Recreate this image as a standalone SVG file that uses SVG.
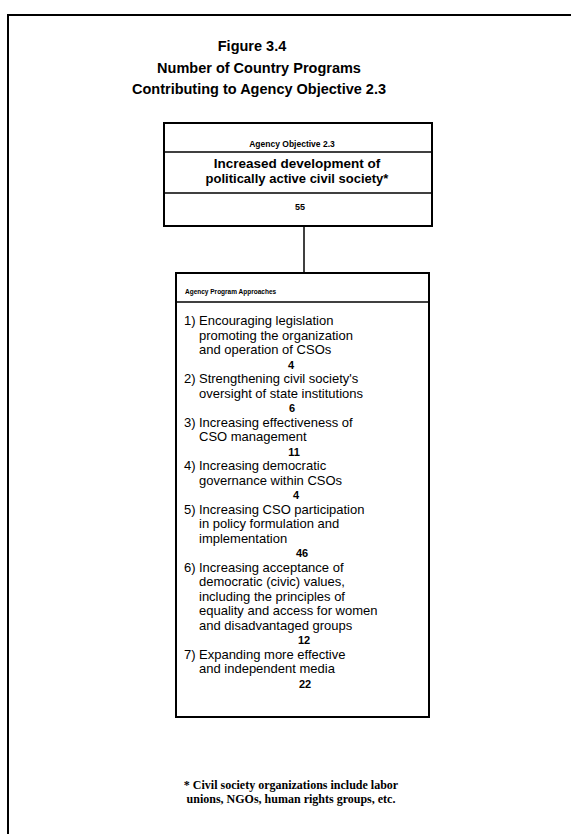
<svg xmlns="http://www.w3.org/2000/svg" width="571" height="834" viewBox="0 0 571 834">
<style>
.ln{stroke:#000;stroke-width:2;fill:none}
.thin{stroke:#000;stroke-width:1.5;fill:none}
.t{font-family:"Liberation Sans",Arial,sans-serif;fill:#000}
.b{font-weight:bold}
.it{font-size:13px}
.num{font-size:11px;font-weight:bold;text-anchor:middle}
.fn{font-family:"Liberation Serif","Times New Roman",serif;font-weight:bold;font-size:12px;text-anchor:middle;fill:#000}
</style>
<rect width="571" height="834" fill="#fff"/>
<path class="ln" d="M8 834 V15 H571"/>
<g id="title">
<text class="t b" x="252" y="51" font-size="14.5" text-anchor="middle">Figure 3.4</text>
<text class="t b" x="259" y="73" font-size="14.5" text-anchor="middle">Number of Country Programs</text>
<text class="t b" x="259" y="94" font-size="14.5" text-anchor="middle">Contributing to Agency Objective 2.3</text>
</g>
<g id="connectors">
<line class="thin" x1="304" y1="226" x2="304" y2="273"/>
</g>
<g id="objective">
<rect class="ln" x="164" y="123" width="268" height="103"/>
<line class="thin" x1="164" y1="152" x2="432" y2="152"/>
<line class="thin" x1="164" y1="193" x2="432" y2="193"/>
<text class="t b" x="292" y="147" font-size="8.5" text-anchor="middle">Agency Objective 2.3</text>
<text class="t b" x="297" y="168" font-size="13.5" text-anchor="middle">Increased development of</text>
<text class="t b" x="297" y="183" font-size="13" text-anchor="middle">politically active civil society*</text>
<text class="t b" x="300" y="210" font-size="9" text-anchor="middle">55</text>
</g>
<g id="approaches">
<rect class="ln" x="176" y="273" width="253" height="444"/>
<line class="thin" x1="176" y1="302" x2="429" y2="302"/>
<text class="t b" x="185" y="294" font-size="6.5">Agency Program Approaches</text>
<g class="t it">
<text x="184" y="325">1)</text><text x="199" y="325">Encouraging legislation</text>
<text x="199" y="339.5">promoting the organization</text>
<text x="199" y="354">and operation of CSOs</text>
<text x="184" y="383">2)</text><text x="199" y="383">Strengthening civil society's</text>
<text x="199" y="397.5">oversight of state institutions</text>
<text x="184" y="426.5">3)</text><text x="199" y="426.5">Increasing effectiveness of</text>
<text x="199" y="441">CSO management</text>
<text x="184" y="470">4)</text><text x="199" y="470">Increasing democratic</text>
<text x="199" y="484.5">governance within CSOs</text>
<text x="184" y="513.5">5)</text><text x="199" y="513.5">Increasing CSO participation</text>
<text x="199" y="528">in policy formulation and</text>
<text x="199" y="542.5">implementation</text>
<text x="184" y="571.5">6)</text><text x="199" y="571.5">Increasing acceptance of</text>
<text x="199" y="586">democratic (civic) values,</text>
<text x="199" y="600.5">including the principles of</text>
<text x="199" y="615">equality and access for women</text>
<text x="199" y="629.5">and disadvantaged groups</text>
<text x="184" y="658.5">7)</text><text x="199" y="658.5">Expanding more effective</text>
<text x="199" y="673">and independent media</text>
</g>
<text class="t num" x="291" y="368.5">4</text>
<text class="t num" x="292" y="412">6</text>
<text class="t num" x="294" y="455.5">11</text>
<text class="t num" x="296" y="499">4</text>
<text class="t num" x="302" y="557">46</text>
<text class="t num" x="304" y="644">12</text>
<text class="t num" x="305" y="687.5">22</text>
</g>
<g id="footnote">
<text class="fn" x="291" y="789">* Civil society organizations include labor</text>
<text class="fn" x="291" y="803">unions, NGOs, human rights groups, etc.</text>
</g>
</svg>
